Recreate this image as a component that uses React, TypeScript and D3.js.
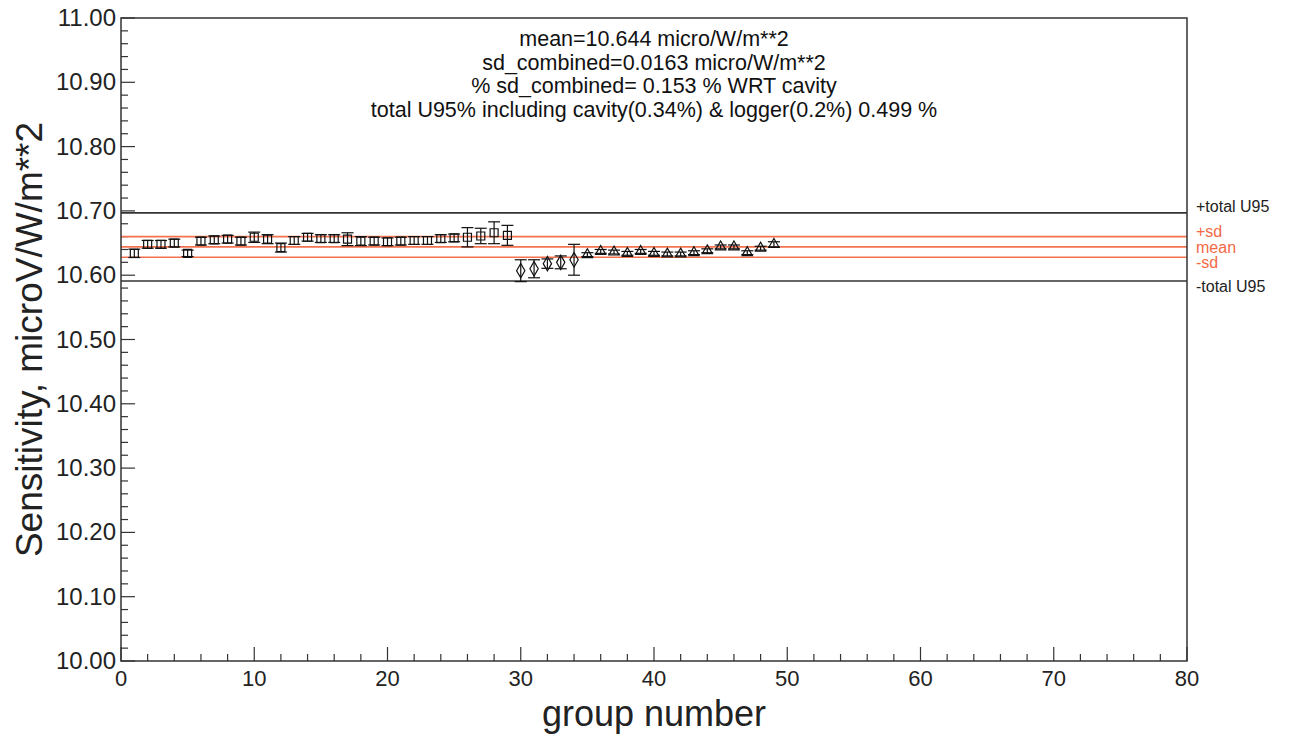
import * as d3 from 'd3';

// values
const squareGroups = [1, 2, 3, 4, 5, 6, 7, 8, 9, 10, 11, 12, 13, 14, 15, 16, 17, 18, 19, 20, 21, 22, 23, 24, 25, 26, 27, 28, 29];
const squareValues = [10.634, 10.648, 10.648, 10.650, 10.634, 10.653, 10.655, 10.656, 10.653, 10.659, 10.656, 10.643, 10.654, 10.659, 10.657, 10.657, 10.656, 10.653, 10.653, 10.652, 10.653, 10.654, 10.654, 10.657, 10.658, 10.659, 10.661, 10.666, 10.662];
const squareErrors = [0.0065, 0.006, 0.006, 0.006, 0.005, 0.006, 0.006, 0.006, 0.006, 0.008, 0.007, 0.007, 0.006, 0.006, 0.006, 0.006, 0.010, 0.007, 0.006, 0.006, 0.006, 0.006, 0.006, 0.006, 0.006, 0.015, 0.012, 0.017, 0.0155];

const diamondGroups = [30, 31, 32, 33, 34];
const diamondValues = [10.607, 10.610, 10.618, 10.620, 10.624];
const diamondErrors = [0.017, 0.014, 0.0073, 0.010, 0.024];

const triangleGroups = [35, 36, 37, 38, 39, 40, 41, 42, 43, 44, 45, 46, 47, 48, 49];
const triangleValues = [10.632, 10.637, 10.636, 10.634, 10.637, 10.634, 10.633, 10.633, 10.635, 10.638, 10.644, 10.644, 10.635, 10.642, 10.648];
const triangleErrors = [0.003, 0.003, 0.003, 0.003, 0.003, 0.003, 0.003, 0.003, 0.003, 0.003, 0.003, 0.003, 0.003, 0.003, 0.004];

const refNames = ['+total U95', '+sd', 'mean', '-sd', '-total U95'];
const refValues = [10.697, 10.660, 10.644, 10.628, 10.591];
const refColors = ['#333333', '#f4724f', '#f4724f', '#f4724f', '#333333'];
const refLabelColors = ['#222222', '#f26a45', '#f26a45', '#f26a45', '#222222'];
const refLabelDy = [-1, 0, 6, 11, 11];

const yTicks = [10.0, 10.1, 10.2, 10.3, 10.4, 10.5, 10.6, 10.7, 10.8, 10.9, 11.0];
const xTicks = [0, 10, 20, 30, 40, 50, 60, 70, 80];

const titleLines = [
  'mean=10.644 micro/W/m**2',
  'sd_combined=0.0163 micro/W/m**2',
  '% sd_combined= 0.153 % WRT cavity',
  'total U95% including cavity(0.34%) & logger(0.2%) 0.499 %',
];

const W = 1297;
const H = 736;
const margin = { top: 18, right: 110, bottom: 75, left: 121 };
const font = '"Liberation Sans", Arial, Helvetica, sans-serif';

const App = () => {
  const x = d3.scaleLinear().domain([0, 80]).range([margin.left, W - margin.right]);
  const y = d3.scaleLinear().domain([10, 11]).range([H - margin.bottom, margin.top]);
  const x0 = x.range()[0];
  const x1 = x.range()[1];
  const yb = y.range()[0];
  const yt = y.range()[1];

  const yMinor = d3.range(0, 51).map(i => 10 + i * 0.02);
  const xMinor = d3.range(0, 41).map(i => i * 2);

  const series = [
    { groups: squareGroups, values: squareValues, errors: squareErrors, symbol: d3.symbolSquare, size: 64 },
    { groups: diamondGroups, values: diamondValues, errors: diamondErrors, symbol: d3.symbolDiamond, size: 60 },
    { groups: triangleGroups, values: triangleValues, errors: triangleErrors, symbol: d3.symbolTriangle, size: 45 },
  ];

  return (
    <svg width={W} height={H} style={{ position: 'absolute', left: 0, top: 0, background: '#fff' }} fontFamily={font}>
      {/* minor + major ticks */}
      <g stroke="#333" strokeWidth={1.2}>
        {yMinor.map((v, i) => (
          <line key={'ym' + i} x1={x0} x2={x0 + (i % 5 === 0 ? 14 : 7)} y1={y(v)} y2={y(v)} />
        ))}
        {xMinor.map((v, i) => (
          <line key={'xm' + i} x1={x(v)} x2={x(v)} y1={yb} y2={yb - (i % 5 === 0 ? 14 : 7)} />
        ))}
      </g>

      {/* reference lines */}
      {refValues.map((v, i) => (
        <g key={'ref' + i}>
          <line x1={x0} x2={x1} y1={y(v)} y2={y(v)} stroke={refColors[i]} strokeWidth={1.6} />
          <text x={x1 + 9} y={y(v) + refLabelDy[i]} fontSize={16} fill={refLabelColors[i]}>{refNames[i]}</text>
        </g>
      ))}

      {/* data with error bars */}
      {series.map((s, si) => (
        <g key={'s' + si} stroke="#111" strokeWidth={1.2} fill="none">
          {s.groups.map((g, i) => {
            const cx = x(g);
            const cy = y(s.values[i]);
            const top = y(s.values[i] + s.errors[i]);
            const bot = y(s.values[i] - s.errors[i]);
            return (
              <g key={i}>
                <line x1={cx} x2={cx} y1={top} y2={bot} />
                <line x1={cx - 6} x2={cx + 6} y1={top} y2={top} />
                <line x1={cx - 6} x2={cx + 6} y1={bot} y2={bot} />
                <path d={d3.symbol().type(s.symbol).size(s.size)() as string} transform={`translate(${cx},${cy})`} />
              </g>
            );
          })}
        </g>
      ))}

      {/* frame */}
      <rect x={x0} y={yt} width={x1 - x0} height={yb - yt} fill="none" stroke="#333" strokeWidth={1.5} />

      {/* tick labels */}
      {yTicks.map(v => (
        <text key={'yt' + v} x={x0 - 5} y={y(v) + 8} fontSize={24} textAnchor="end" fill="#222">{v.toFixed(2)}</text>
      ))}
      {xTicks.map(v => (
        <text key={'xt' + v} x={x(v)} y={yb + 25} fontSize={22} textAnchor="middle" fill="#222">{v}</text>
      ))}

      {/* axis titles */}
      <text x={x((0 + 80) / 2)} y={H - 10} fontSize={36} textAnchor="middle" fill="#222">group number</text>
      <text transform={`translate(42,${(yt + yb) / 2}) rotate(-90)`} fontSize={37} textAnchor="middle" fill="#222">Sensitivity, microV/W/m**2</text>

      {/* statistics text */}
      {titleLines.map((t, i) => (
        <text key={'tl' + i} x={(x0 + x1) / 2} y={46 + i * 23.5} fontSize={21.5} textAnchor="middle" fill="#111">{t}</text>
      ))}
    </svg>
  );
};

export default App;
